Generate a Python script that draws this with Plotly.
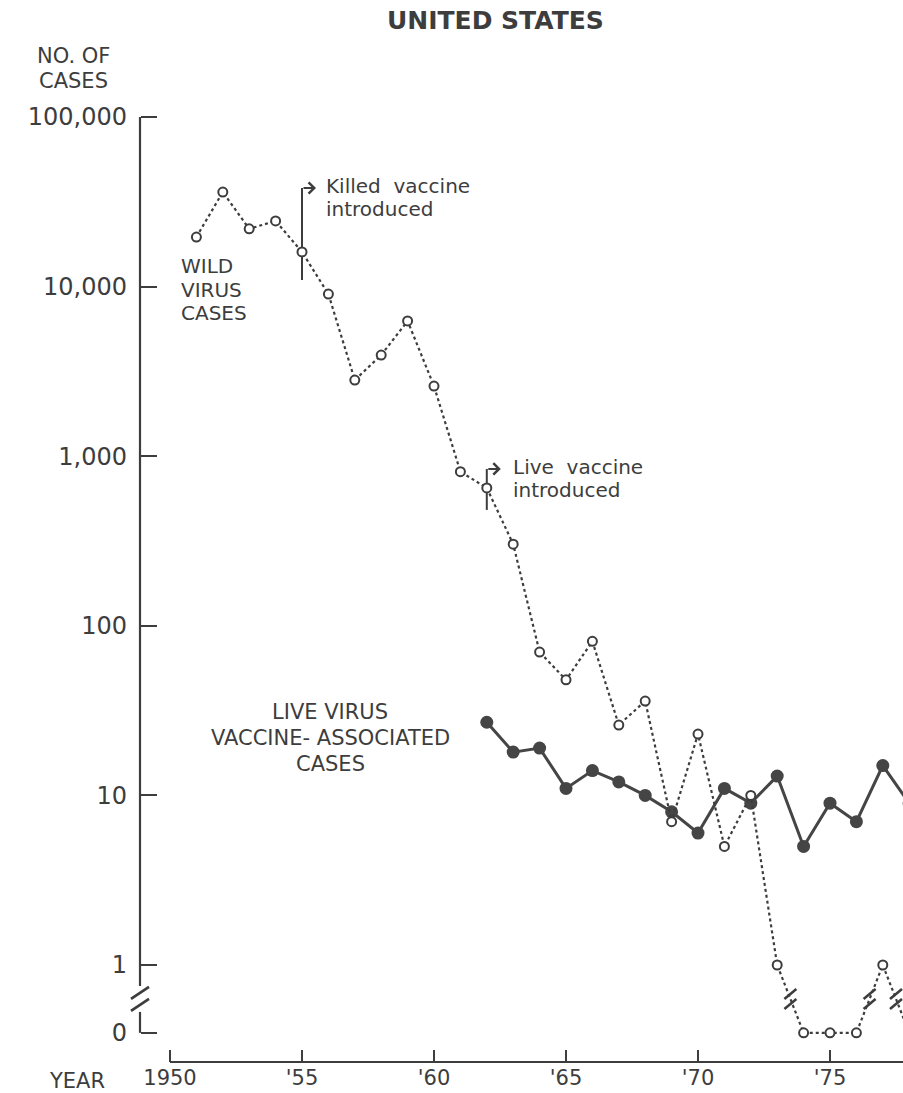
import math
import plotly.graph_objects as go

# ---- Reported poliomyelitis cases, United States ----
WILD_YEARS = list(range(1951, 1979))
WILD_CASES = [19600, 36100, 21900, 24400, 16000, 9040, 2810, 3950, 6270, 2590,
              810, 650, 303, 70, 48, 81, 26, 36, 7, 23,
              5, 10, 1, 0, 0, 0, 1, 0]

VAX_YEARS = list(range(1962, 1979))
VAX_CASES = [27, 18, 19, 11, 14, 12, 10, 8, 6, 11, 9, 13, 5, 9, 7, 15, 9]

KILLED_VACCINE_YEAR = 1955
LIVE_VACCINE_YEAR = 1962

Y_TICK_VALUES = [100000, 10000, 1000, 100, 10, 1]
Y_TICK_LABELS = ["100,000", "10,000", "1,000", "100", "10", "1"]
ZERO_LABEL = "0"
X_TICK_VALUES = [1950, 1955, 1960, 1965, 1970, 1975]
X_TICK_LABELS = ["1950", "'55", "'60", "'65", "'70", "'75"]

# ---- page geometry ----
W, H = 903, 1093
PPY = 26.4          # pixels per year
PPD = 169.6         # pixels per decade of cases
X0_PX = 170         # where 1950 sits
Y5_PX = 117         # where 100,000 sits
YAXIS_PX = 140      # vertical axis line
XAXIS_PX = 1062     # horizontal axis line

X_RANGE = [1950 - X0_PX / PPY, 1950 + (W - X0_PX) / PPY]
Y_RANGE = [5 - (H - Y5_PX) / PPD, 5 + Y5_PX / PPD]

# zero cases sit on a false baseline below the 1-case line
ZERO_LOG = -0.40
ZERO_LEVEL = 10 ** ZERO_LOG
BREAK_LOG = ZERO_LOG / 2

INK = "#3d3d3d"
FONT = "DejaVu Sans"

YAXIS_YEAR = 1950 - (X0_PX - YAXIS_PX) / PPY
XAXIS_LOG = 5 - (XAXIS_PX - Y5_PX) / PPD


def on_scale(v):
    return v if v > 0 else ZERO_LEVEL


def log_of(v):
    return math.log10(on_scale(v))


def slash(year, lg, dx, dy, hw, hh):
    """Endpoints of a '/' stroke centred dx,dy pixels away from (year, lg)."""
    xs = [year + (dx - hw) / PPY, year + (dx + hw) / PPY]
    ys = [10 ** (lg - (dy + hh) / PPD), 10 ** (lg - (dy - hh) / PPD)]
    return xs, ys


fig = go.Figure()

# ---- axis lines (vertical axis broken between 1 and 0) ----
gap = 13 / PPD
fig.add_trace(go.Scatter(
    x=[YAXIS_YEAR, YAXIS_YEAR, None, YAXIS_YEAR, YAXIS_YEAR],
    y=[Y_TICK_VALUES[0], 10 ** (BREAK_LOG + gap), None,
       10 ** (BREAK_LOG - gap), ZERO_LEVEL],
    mode="lines", line=dict(color=INK, width=2.2), hoverinfo="skip"))
fig.add_trace(go.Scatter(
    x=[X_TICK_VALUES[0], X_RANGE[1] + 1],
    y=[10 ** XAXIS_LOG, 10 ** XAXIS_LOG],
    mode="lines", line=dict(color=INK, width=2.2), hoverinfo="skip"))

# ---- break marks ----
bx, by = [], []
for dy in (-6, 6):
    xs, ys = slash(YAXIS_YEAR, BREAK_LOG, 0, dy, 9, 6)
    bx += xs + [None]
    by += ys + [None]
for i in range(len(WILD_CASES) - 1):
    a, b = WILD_CASES[i], WILD_CASES[i + 1]
    if (a == 0) != (b == 0):
        mid_year = (WILD_YEARS[i] + WILD_YEARS[i + 1]) / 2
        mid_log = (log_of(a) + log_of(b)) / 2
        for dy in (-5, 5):
            xs, ys = slash(mid_year, mid_log, 0, dy, 6, 5)
            bx += xs + [None]
            by += ys + [None]
fig.add_trace(go.Scatter(x=bx, y=by, mode="lines",
                         line=dict(color=INK, width=2.6), hoverinfo="skip"))


# ---- vaccine-introduction brackets ----
def bracket(year, top_px_above, bottom_px_below, center_value):
    lg = log_of(center_value)
    top = 10 ** (lg + top_px_above / PPD)
    bottom = 10 ** (lg - bottom_px_below / PPD)
    fig.add_trace(go.Scatter(x=[year, year], y=[top, bottom], mode="lines",
                             line=dict(color=INK, width=2), hoverinfo="skip"))
    return lg + top_px_above / PPD


killed_value = WILD_CASES[WILD_YEARS.index(KILLED_VACCINE_YEAR)]
live_value = WILD_CASES[WILD_YEARS.index(LIVE_VACCINE_YEAR)]
killed_top = bracket(KILLED_VACCINE_YEAR, 64, 28, killed_value)
live_top = bracket(LIVE_VACCINE_YEAR, 19, 22, live_value)

# ---- live-virus vaccine-associated cases ----
fig.add_trace(go.Scatter(
    x=VAX_YEARS, y=VAX_CASES, mode="lines+markers",
    line=dict(color="#454545", width=3),
    marker=dict(color="#454545", size=13),
    name="Live virus vaccine-associated cases"))

# ---- wild virus cases ----
fig.add_trace(go.Scatter(
    x=WILD_YEARS, y=[on_scale(v) for v in WILD_CASES], mode="lines+markers",
    line=dict(color=INK, width=2.2, dash="dot"),
    marker=dict(color="white", size=9, line=dict(color=INK, width=2)),
    customdata=WILD_CASES, hovertemplate="%{x}: %{customdata}<extra></extra>",
    name="Wild virus cases"))

annotations = []


def text(lines, x_px, y_px, spacing, size, anchor="left", bold=False):
    for k, s in enumerate(lines):
        annotations.append(dict(
            text=f"<b>{s}</b>" if bold else s, showarrow=False,
            xref="paper", yref="paper", x=x_px / W, y=1 - (y_px + k * spacing) / H,
            xanchor=anchor, yanchor="middle",
            font=dict(family=FONT, size=size, color=INK)))


text(["UNITED STATES"], 495, 21, 0, 25, "center", bold=True)
text(["NO. OF", "CASES"], 73, 56, 25, 21, "center")
text(["YEAR"], 47, 1081, 0, 21)
text(["WILD", "VIRUS", "CASES"], 179, 266, 23.5, 20)
text(["Killed  vaccine", "introduced"], 324, 186, 23, 20)
text(["Live  vaccine", "introduced"], 511, 467, 23, 20)
text(["LIVE VIRUS", "VACCINE- ASSOCIATED", "CASES"], 330, 712, 26, 21, "center")

# arrow heads of the brackets
for year, lg in ((KILLED_VACCINE_YEAR, killed_top), (LIVE_VACCINE_YEAR, live_top)):
    annotations.append(dict(
        x=year + 14 / PPY, y=lg, ax=year, ay=lg, xref="x", yref="y",
        axref="x", ayref="y", text="", showarrow=True, arrowhead=4,
        arrowsize=1.1, arrowwidth=2, arrowcolor=INK))

fig.update_layout(
    width=W, height=H, template="none",
    margin=dict(l=0, r=0, t=0, b=0),
    paper_bgcolor="white", plot_bgcolor="white",
    showlegend=False, annotations=annotations,
    xaxis=dict(range=X_RANGE, anchor="free", position=(H - XAXIS_PX) / H,
               showgrid=False, zeroline=False, showline=False,
               tickmode="array", tickvals=X_TICK_VALUES, ticktext=X_TICK_LABELS,
               ticks="inside", ticklen=12, tickwidth=2, tickcolor=INK,
               ticklabelstandoff=1, automargin=False,
               tickfont=dict(family=FONT, size=21, color=INK)),
    yaxis=dict(type="log", range=Y_RANGE, anchor="free", position=YAXIS_PX / W,
               showgrid=False, zeroline=False, showline=False,
               tickmode="array", tickvals=Y_TICK_VALUES + [ZERO_LEVEL],
               ticktext=Y_TICK_LABELS + [ZERO_LABEL],
               ticks="inside", ticklen=16, tickwidth=2, tickcolor=INK,
               ticklabelstandoff=13, automargin=False,
               tickfont=dict(family=FONT, size=24, color=INK)),
)

fig.write_html("out.html")
